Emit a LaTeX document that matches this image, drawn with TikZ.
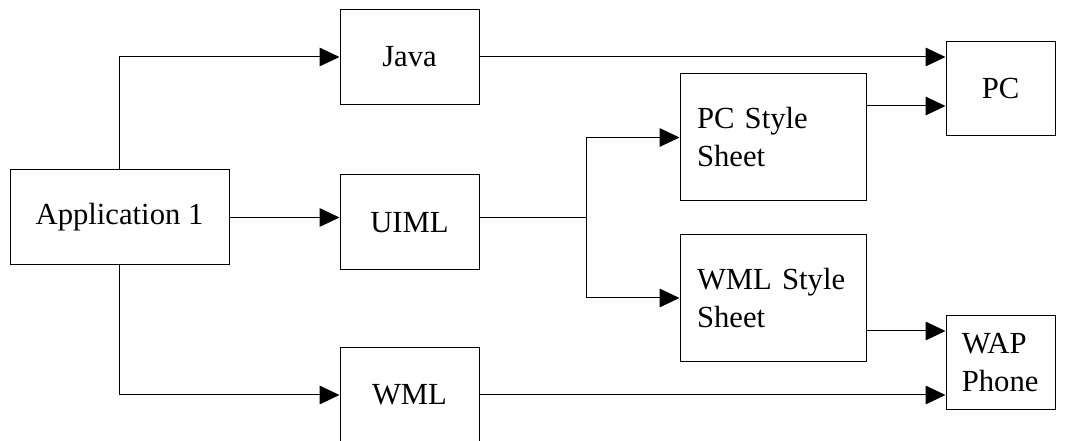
\documentclass[tikz,border=0pt]{standalone}
\usepackage{fontspec}
\setmainfont{Liberation Serif}
\usetikzlibrary{arrows.meta,calc}
\tikzset{block/.style={draw,line width=0.75pt,align=left,inner sep=0pt,font=\fontsize{23}{28.5}\selectfont}}
\tikzset{wide/.style={block,minimum width=164.25pt,minimum height=71.25pt}}
\tikzset{lang/.style={block,minimum width=104.25pt,minimum height=71.25pt}}
\tikzset{sheet/.style={block,text width=114pt,minimum width=139.5pt,minimum height=95.25pt}}
\tikzset{device/.style={block,minimum width=81.75pt,minimum height=70.5pt}}
\tikzset{link/.style={line width=0.75pt,-{Triangle[length=15pt,width=14pt]}}}

\begin{document}
\begin{tikzpicture}[x=0.75pt,y=-0.75pt]
	\useasboundingbox (0,0) rectangle (1068,441);
	\clip (0,0) rectangle (1068,441);

	% source, the three formats, the style sheets and the devices
	\node[wide] (app) at (119.5,217.5) {Application 1};
	\node[lang] (java) at (409.5,57) {Java};
	\node[lang] (uiml) at (409.5,222.5) {UIML};
	\node[lang] (wml) at (409.5,395) {WML};
	\node[sheet] (pcss) at (773,137.5) {PC Style\\Sheet};
	\node[sheet] (wmlss) at (773,298) {WML Style\\Sheet};
	\node[device] (pc) at (1000.5,89) {PC};
	\node[device,text width=58pt] (wap) at (1000.5,363) {WAP\\Phone};

	\coordinate (split) at (586,217.5);
	\coordinate (pcin) at ($(pc.west)+(0,17)$);
	\coordinate (wapin) at ($(wap.west)+(0,-32)$);

	% connectors
	\draw[link] (app.north) |- (java.west);
	\draw[link] (app.east) -- (uiml.west |- app.east);
	\draw[link] (app.south) |- (wml.west);
	\draw[link] (java.east) -- (pc.west |- java.east);
	\draw[line width=0.75pt] (uiml.east |- split) -- (split);
	\draw[link] (split) |- (pcss.west);
	\draw[link] (split) |- (wmlss.west);
	\draw[link] (pcss.east |- pcin) -- (pcin);
	\draw[link] (wmlss.east |- wapin) -- (wapin);
	\draw[link] (wml.east) -- (wap.west |- wml.east);
\end{tikzpicture}
\end{document}
